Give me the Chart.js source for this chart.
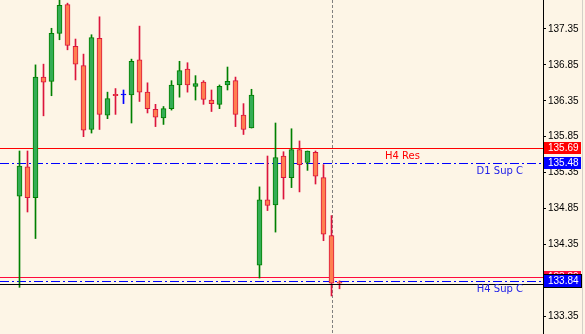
<!DOCTYPE html>
<html>
<head>
<meta charset="utf-8">
<script src="https://cdn.jsdelivr.net/npm/chart.js@4.4.0/dist/chart.umd.min.js"></script>
<style>
  html, body { margin: 0; padding: 0; background: #fdf5e6; }
  canvas { display: block; }
</style>
</head>
<body>
<canvas id="chart" width="585" height="334"></canvas>
<script>
// H4 candles, oldest first
const opens  = [135.02, 135.43, 135.00, 136.68, 136.62, 137.29, 137.69, 137.11, 136.84, 135.95,
                137.22, 136.15, 136.44, 136.43, 136.43, 136.92, 136.47, 136.23, 136.11, 136.24,
                136.57, 136.79, 136.55, 136.61, 136.36, 136.30, 136.57, 136.63, 136.15, 135.97,
                134.06, 134.97, 134.90, 135.58, 135.28, 135.67, 135.49, 135.63, 135.28, 134.47,
                133.82];
const highs  = [135.65, 135.65, 136.85, 136.86, 137.36, 137.76, 137.71, 137.21, 137.00, 137.27,
                137.52, 136.47, 136.52, 136.50, 136.93, 137.39, 136.60, 136.30, 136.27, 136.63,
                136.90, 136.88, 136.70, 136.63, 136.50, 136.57, 136.82, 136.68, 136.31, 136.51,
                135.15, 135.58, 136.04, 135.64, 135.96, 135.79, 135.65, 135.65, 135.46, 134.75,
                133.84];
const lows   = [133.75, 134.80, 134.43, 136.14, 136.42, 137.20, 137.06, 136.64, 135.85, 135.90,
                135.95, 136.10, 136.16, 136.31, 136.04, 136.34, 136.18, 135.99, 136.02, 136.22,
                136.40, 136.47, 136.36, 136.30, 136.20, 136.24, 136.50, 135.99, 135.88, 135.97,
                133.88, 134.82, 134.52, 134.98, 135.14, 135.08, 135.38, 135.19, 134.40, 133.63,
                133.73];
const closes = [135.44, 135.00, 136.68, 136.61, 137.29, 137.68, 137.12, 136.86, 135.94, 137.23,
                136.16, 136.38, 136.42, 136.43, 136.90, 136.47, 136.24, 136.12, 136.24, 136.57,
                136.77, 136.57, 136.59, 136.37, 136.31, 136.55, 136.62, 136.16, 135.95, 136.43,
                134.97, 134.89, 135.56, 135.28, 135.67, 135.46, 135.65, 135.30, 134.49, 133.81,
                133.81];

const tickValues = [133.35, 133.85, 134.35, 134.85, 135.35, 135.85, 136.35, 136.85, 137.35];

// levels drawn on the chart
const h4Res = 135.69;
const h4Res2 = 133.89;
const d1SupC = 135.48;
const h4SupC = 133.84;
const bidPrice = 133.81;
const separatorBar = 39;

const yMin = 133.10, yMax = 137.754;
const xMin = -2.4375, xMax = 65.4375;

const bg = '#fdf5e6';
const kind = opens.map((o, i) => closes[i] > o ? 'bull' : closes[i] < o ? 'bear' : 'doji');
const fills = { bull: '#34ad55', bear: '#ff7f50', doji: '#0000ff' };
const edges = { bull: '#008000', bear: '#dc143c', doji: '#0000ff' };

// solid or dashed 1px horizontal line made of filled pixels
function hline(ctx, a, py, color, dash, thick) {
  ctx.fillStyle = color;
  if (!dash.length) { ctx.fillRect(a.left, py, a.right - a.left, thick); return; }
  let x = a.left, k = 0;
  while (x < a.right) {
    const len = dash[k % dash.length];
    if (k % 2 === 0) ctx.fillRect(x, py, Math.min(len, a.right - x), thick);
    x += len; k++;
  }
}

const overlay = {
  id: 'overlay',
  beforeDraw(chart) {
    const ctx = chart.ctx;
    ctx.save();
    ctx.fillStyle = bg;
    ctx.fillRect(0, 0, chart.width, chart.height);
    ctx.restore();
  },
  beforeDatasetsDraw(chart) {
    const { ctx, chartArea: a, scales: { x, y } } = chart;
    const py = v => Math.round(y.getPixelForValue(v));
    ctx.save();
    // period separator
    const px = Math.round(x.getPixelForValue(separatorBar));
    ctx.fillStyle = '#808080';
    for (let yy = a.top; yy < a.bottom; yy += 5) ctx.fillRect(px, yy, 1, 3);
    hline(ctx, a, py(h4Res), '#ff0000', [], 1);
    hline(ctx, a, py(h4Res2), '#ff0a3c', [], 1);
    hline(ctx, a, py(d1SupC), '#0000ff', [9, 3, 2, 3], 1);
    hline(ctx, a, py(h4SupC), '#0000ff', [9, 3, 2, 3], 1);
    ctx.restore();
  },
  afterDatasetsDraw(chart) {
    const { ctx, chartArea: a, scales: { y } } = chart;
    ctx.save();
    hline(ctx, a, Math.round(y.getPixelForValue(bidPrice)) + 1, '#000000', [], 1);

    ctx.font = '10px "DejaVu Sans"';
    ctx.textBaseline = 'top';
    ctx.fillStyle = '#ff0000';
    ctx.textAlign = 'left';
    ctx.fillText('H4 Res', a.right - 158, y.getPixelForValue(h4Res) + 3);
    ctx.fillStyle = '#2020e8';
    ctx.textAlign = 'right';
    ctx.fillText('D1 Sup C', a.right - 20, y.getPixelForValue(d1SupC) + 3);
    ctx.fillText('H4 Sup C', a.right - 20, y.getPixelForValue(h4SupC) + 4);
    ctx.restore();
  },
  afterDraw(chart) {
    const { ctx, chartArea: a, scales: { y } } = chart;
    const box = (v, color, outline) => {
      const py = Math.round(y.getPixelForValue(v));
      ctx.fillStyle = color;
      ctx.fillRect(a.right + 1, py - 6, 37, 12);
      if (outline) {
        ctx.strokeStyle = '#000';
        ctx.lineWidth = 1;
        ctx.strokeRect(a.right + 0.5, py - 6.5, 38, 13);
      }
      ctx.fillStyle = '#fff';
      ctx.font = '10px "Liberation Sans"';
      ctx.textAlign = 'left';
      ctx.textBaseline = 'middle';
      ctx.fillText(v.toFixed(2), a.right + 5, py + 0.5);
    };
    ctx.save();
    box(h4Res, '#ff0000');
    box(d1SupC, '#0000ff');
    box(h4Res2, '#ff0a3c');
    box(h4SupC, '#0000ff', true);
    ctx.fillStyle = '#d4d0c8';
    ctx.fillRect(chart.width - 3, 0, 1, chart.height);
    ctx.restore();
  }
};

const idx = opens.map((_, i) => i);

new Chart(document.getElementById('chart'), {
  type: 'bar',
  data: {
    datasets: [
      {
        label: 'body',
        data: idx.map(i => ({ x: i, y: [opens[i], closes[i]] })),
        backgroundColor: kind.map(k => fills[k]),
        borderColor: kind.map(k => edges[k]),
        borderWidth: 1,
        borderSkipped: false,
        barThickness: 5,
        minBarLength: 1,
        grouped: false
      },
      {
        label: 'wick',
        data: idx.map(i => ({ x: i, y: [lows[i], highs[i]] })),
        backgroundColor: kind.map(k => edges[k]),
        borderWidth: 0,
        barThickness: 1,
        grouped: false
      }
    ]
  },
  options: {
    responsive: false,
    animation: false,
    devicePixelRatio: 1,
    layout: { padding: 0 },
    plugins: { legend: { display: false }, tooltip: { enabled: false } },
    scales: {
      x: { type: 'linear', display: false, min: xMin, max: xMax, offset: false },
      y: {
        position: 'right',
        min: yMin,
        max: yMax,
        afterFit(s) { s.width = 42; s.paddingTop = 0; s.paddingBottom = 0; },
        afterBuildTicks(s) { s.ticks = tickValues.map(v => ({ value: v })); },
        grid: { drawOnChartArea: false, drawTicks: true, tickLength: 3, tickColor: '#000', color: '#000' },
        border: { display: true, color: '#000', width: 1 },
        ticks: {
          padding: 2,
          color: '#000',
          autoSkip: false,
          font: { family: 'Liberation Sans', size: 10 },
          callback: v => v.toFixed(2)
        }
      }
    }
  },
  plugins: [overlay]
});
</script>
</body>
</html>
